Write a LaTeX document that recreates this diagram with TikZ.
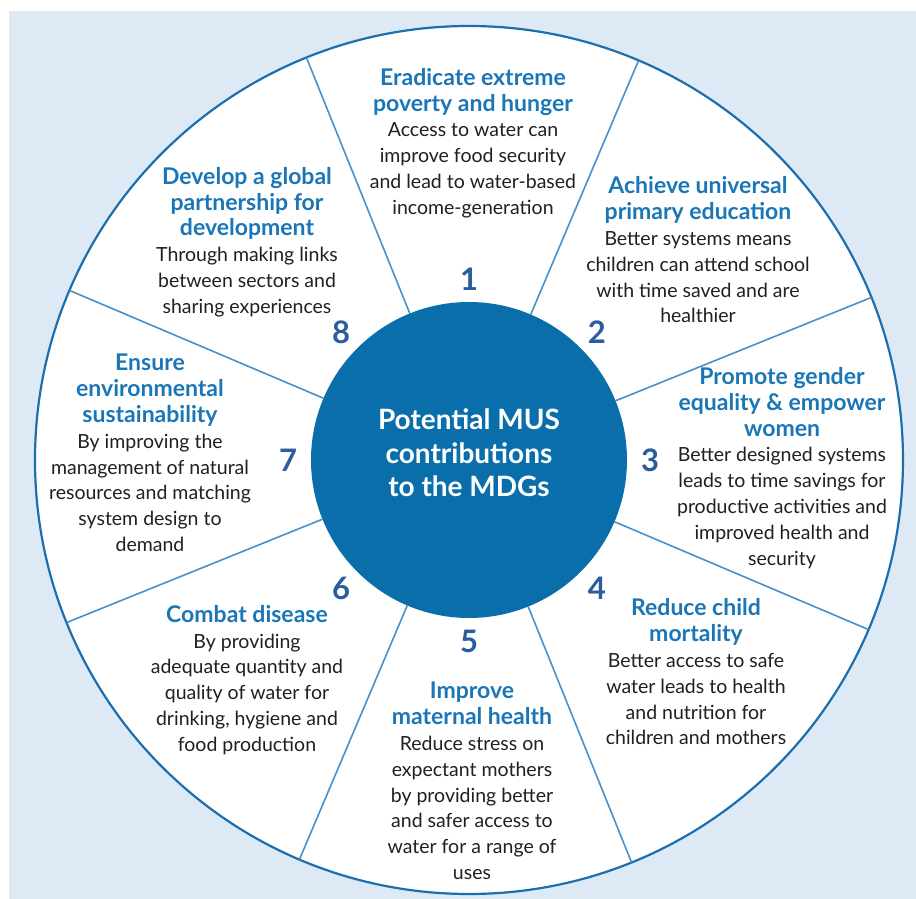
\documentclass[tikz,border=0pt]{standalone}
\usepackage{fontspec}
\setmainfont{Lato}
\usepackage{xcolor}
\definecolor{mdgbg}{HTML}{DDEAF6}
\definecolor{mdgring}{HTML}{1B6FAE}
\definecolor{mdgspoke}{HTML}{4A90C9}
\definecolor{mdghub}{HTML}{0A6EAA}
\definecolor{mdgtitle}{HTML}{1A76B6}
\definecolor{mdgnum}{HTML}{2B5C9E}
\definecolor{mdgtext}{HTML}{231F20}

\newcommand{\ttl}[1]{{\fontsize{23}{25.8}\selectfont\textcolor{mdgtitle}{\bfseries #1}}}

\begin{document}
\begin{tikzpicture}[
    x=1pt, y=1pt,
    every node/.style={font=\fontsize{19.5}{25.8}\selectfont, text=mdgtext},
    goal/.style={align=center, inner sep=0pt},
    goalnum/.style={font=\fontsize{31}{31}\selectfont\bfseries, text=mdgnum, inner sep=0pt},
    spoke/.style={draw=mdgspoke, line width=1.6},
  ]
    \useasboundingbox (-469, -439) rectangle (447, 460);

    % 背景
    \fill[mdgbg] (-460, -439) rectangle (447, 449);

    % 外圈与中心圆
    \node[circle, draw=mdgring, line width=2.2, fill=white, minimum size=868,
          inner sep=0pt, outer sep=0pt] (rim) at (0, 0) {};
    \node[circle, fill=mdghub, minimum size=316, inner sep=0pt, outer sep=0pt]
      (hub) at (0, 0) {};

    % 分隔线
    \foreach \a in {22.5, 67.5, ..., 337.5} {
      \draw[spoke] (hub.\a) -- (rim.\a);
    }

    % 中心文字
    \node[align=center, text=white, font=\fontsize{28}{33.5}\selectfont\bfseries]
      (hubtxt) at (0, 7) {Potential MUS\\contributions\\to the MDGs};

    % 编号
    \foreach \k in {1, ..., 8} {
      \node[goalnum] (n\k) at ({90 - 45*(\k - 1)}:181) {\k};
    }

    % 各目标
    \node[goal] (g1) at (4, 317)
      {\ttl{Eradicate extreme}\\\ttl{poverty and hunger}\\Access to water can\\improve food security\\and lead to water-based\\income-generation};
    \node[goal] (g2) at (229, 210)
      {\ttl{Achieve universal}\\\ttl{primary education}\\Better systems means\\children can attend school\\with time saved and are\\healthier};
    \node[goal] (g3) at (313, -8)
      {\ttl{Promote gender}\\\ttl{equality \& empower}\\\ttl{women}\\Better designed systems\\leads to time savings for\\productive activities and\\improved health and\\security};
    \node[goal] (g4) at (227, -212)
      {\ttl{Reduce child}\\\ttl{mortality}\\Better access to safe\\water leads to health\\and nutrition for\\children and mothers};
    \node[goal] (g5) at (3, -321)
      {\ttl{Improve}\\\ttl{maternal health}\\Reduce stress on\\expectant mothers\\by providing better\\and safer access to\\water for a range of\\uses};
    \node[goal] (g6) at (-222, -220)
      {\ttl{Combat disease}\\By providing\\adequate quantity and\\quality of water for\\drinking, hygiene and\\food production};
    \node[goal] (g7) at (-319, 7)
      {\ttl{Ensure}\\\ttl{environmental}\\\ttl{sustainability}\\By improving the\\management of natural\\resources and matching\\system design to\\demand};
    \node[goal] (g8) at (-222, 218)
      {\ttl{Develop a global}\\\ttl{partnership for}\\\ttl{development}\\Through making links\\between sectors and\\sharing experiences};
  \end{tikzpicture}
\end{document}
